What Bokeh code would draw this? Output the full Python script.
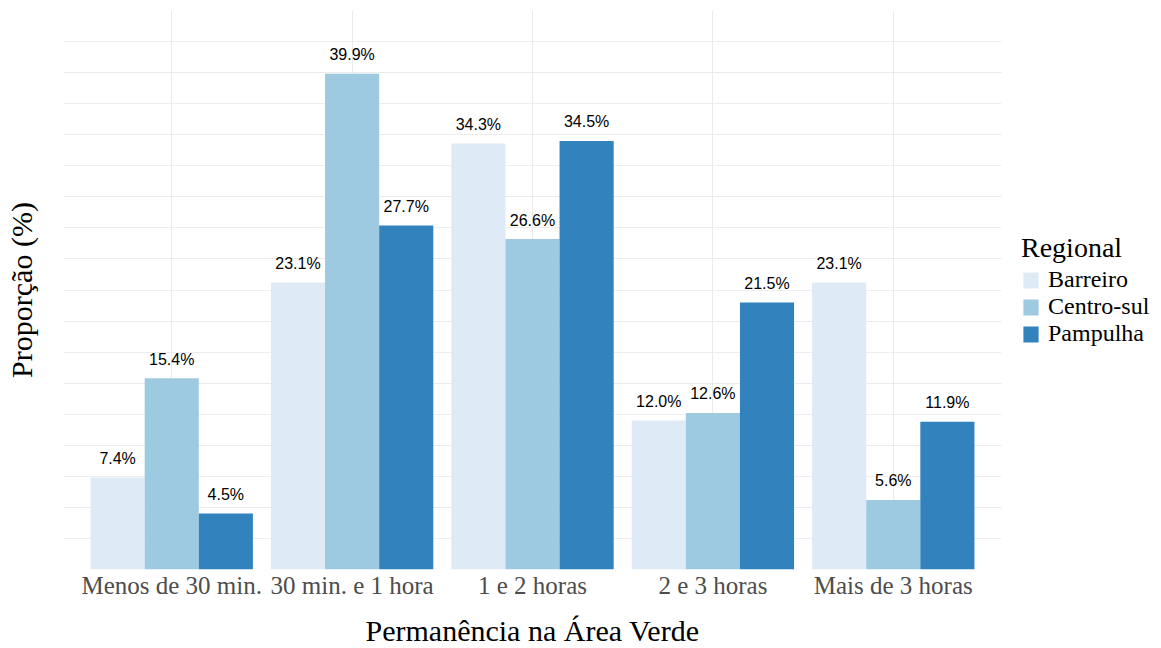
from bokeh.plotting import figure
from bokeh.models import (ColumnDataSource, Range1d, FixedTicker, SingleIntervalTicker,
                          Legend, LegendItem)
from bokeh.transform import dodge
from bokeh.core.properties import value
from bokeh.embed import file_html
from bokeh.resources import INLINE

categories = ["Menos de 30 min.", "30 min. e 1 hora", "1 e 2 horas", "2 e 3 horas", "Mais de 3 horas"]
series = ["Barreiro", "Centro-sul", "Pampulha"]
barreiro = [7.4, 23.1, 34.3, 12.0, 23.1]
centro_sul = [15.4, 39.9, 26.6, 12.6, 5.6]
pampulha = [4.5, 27.7, 34.5, 21.5, 11.9]
colors = ["#DEEBF7", "#9ECAE1", "#3182BD"]

idx = list(range(1, len(categories) + 1))
data = {"idx": idx, "Barreiro": barreiro, "Centro-sul": centro_sul, "Pampulha": pampulha}
for s in series:
    data[s + "_lbl"] = ["%.1f%%" % v for v in data[s]]
src = ColumnDataSource(data)

p = figure(frame_width=938, frame_height=559, output_backend="svg", toolbar_location=None,
           x_range=Range1d(0.4, 5.6), y_range=Range1d(0, 45),
           min_border_left=63, min_border_top=10, min_border_right=160, min_border_bottom=0)
p.outline_line_color = None
p.background_fill_color = "white"
p.border_fill_color = "white"

offsets = [-0.3, 0.0, 0.3]
items = []
for s, c, off in zip(series, colors, offsets):
    r = p.vbar(x=dodge("idx", off, range=p.x_range), top=s, width=0.3, source=src,
               fill_color=c, line_color=None)
    items.append(LegendItem(label=s, renderers=[r]))
    p.text(x=dodge("idx", off, range=p.x_range), y=s, text=s + "_lbl", source=src,
           text_align="center", text_baseline="alphabetic", y_offset=-19,
           text_font=value("Liberation Sans"), text_font_size="16px", text_color="black")

# grid
p.xgrid.ticker = FixedTicker(ticks=idx)
p.xgrid.grid_line_color = "#EBEBEB"
p.xgrid.grid_line_width = 1
p.ygrid.ticker = SingleIntervalTicker(interval=5, num_minor_ticks=2)
p.ygrid.grid_line_color = "#EBEBEB"
p.ygrid.grid_line_width = 1
p.ygrid.minor_grid_line_color = "#EEEEEE"
p.ygrid.minor_grid_line_width = 1

# x axis
xa = p.xaxis[0]
xa.ticker = FixedTicker(ticks=idx)
xa.major_label_overrides = {i: c for i, c in zip(idx, categories)}
xa.axis_line_color = None
xa.major_tick_line_color = None
xa.minor_tick_line_color = None
xa.major_tick_out = 0
xa.major_label_standoff = 2
xa.major_label_text_font = "Liberation Serif"
xa.major_label_text_font_size = "25px"
xa.major_label_text_color = "#4D4D4D"
xa.axis_label = "Permanência na Área Verde"
xa.axis_label_text_font = "Liberation Serif"
xa.axis_label_text_font_size = "30px"
xa.axis_label_text_font_style = "normal"
xa.axis_label_text_color = "black"
xa.axis_label_standoff = 12

# y axis
ya = p.yaxis[0]
ya.ticker = FixedTicker(ticks=[])
ya.axis_line_color = None
ya.major_tick_line_color = None
ya.minor_tick_line_color = None
ya.major_tick_out = 0
ya.major_label_standoff = 0
ya.axis_label = "Proporção (%)"
ya.axis_label_text_font = "Liberation Serif"
ya.axis_label_text_font_size = "30px"
ya.axis_label_text_font_style = "normal"
ya.axis_label_text_color = "black"
ya.axis_label_standoff = 26

legend = Legend(items=items, title="Regional", location=(20, 222))
legend.title_text_font = "'Liberation Serif'"
legend.title_text_font_size = "28px"
legend.title_text_font_style = "normal"
legend.title_text_color = "black"
legend.title_standoff = 2
legend.label_text_font = "'Liberation Serif'"
legend.label_text_font_size = "24px"
legend.label_text_color = "black"
legend.glyph_width = 19
legend.glyph_height = 20
legend.label_height = 21
legend.label_standoff = 8
legend.spacing = 0
legend.padding = 0
legend.margin = 0
legend.border_line_color = None
legend.background_fill_alpha = 0
p.add_layout(legend, "right")

open("out.html", "w").write(file_html(p, INLINE))
